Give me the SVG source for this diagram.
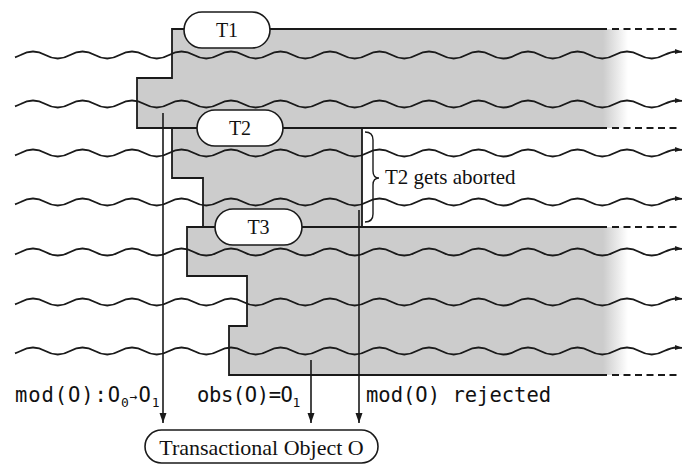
<svg xmlns="http://www.w3.org/2000/svg" xmlns:xlink="http://www.w3.org/1999/xlink" width="683" height="464" viewBox="0 0 683 464">
  <style>
    .region { fill: #cccccc; stroke: none; }
    .region-fade { fill: url(#fade); stroke: none; }
    .edge { fill: none; stroke: #1a1a1a; stroke-width: 1.8; }
    .dash { fill: none; stroke: #1a1a1a; stroke-width: 1.8; stroke-dasharray: 7 4.5; }
    .wave { fill: none; stroke: #1a1a1a; stroke-width: 1.8; }
    .pill { fill: #ffffff; stroke: #1a1a1a; stroke-width: 1.6; }
    .label { font-family: "Liberation Serif", "Times New Roman", serif; font-size: 20px; fill: #111; }
    .mono { font-family: "DejaVu Sans Mono", "Liberation Mono", monospace; font-size: 20.5px; fill: #111; }
    .sub { font-size: 13px; }
    .conn { fill: none; stroke: #1a1a1a; stroke-width: 1.6; }
    .brace { fill: none; stroke: #1a1a1a; stroke-width: 1.4; }
  </style>
  <defs>
    <linearGradient id="fade" gradientUnits="userSpaceOnUse" x1="603" y1="0" x2="628" y2="0">
      <stop offset="0" stop-color="#cccccc" stop-opacity="1"/>
      <stop offset="1" stop-color="#cccccc" stop-opacity="0"/>
    </linearGradient>
    <marker id="tip" markerUnits="userSpaceOnUse" markerWidth="10" markerHeight="8" refX="10" refY="4" orient="auto">
      <path d="M0,0.5 L10,4 L0,7.5 Z" fill="#1a1a1a"/>
    </marker>
    <marker id="wavetip" markerUnits="userSpaceOnUse" markerWidth="8" markerHeight="6" refX="7" refY="3" orient="auto">
      <path d="M0,0.5 L7,3 L0,5.5 Z" fill="#1a1a1a"/>
    </marker>
    <!-- one thread: sine-like wave, period 49.5, amplitude 3.5 -->
    <path id="thread" class="wave" marker-end="url(#wavetip)"
      d="M15,2.3 Q17.8,1.25 20.625,0 q12.375,-7 24.75,0 t24.75,0 t24.75,0 t24.75,0 t24.75,0 t24.75,0 t24.75,0 t24.75,0 t24.75,0 t24.75,0 t24.75,0 t24.75,0 t24.75,0 t24.75,0 t24.75,0 t24.75,0 t24.75,0 t24.75,0 t24.75,0 t24.75,0 t24.75,0 t24.75,0 t24.75,0 t24.75,0 t24.75,0 t24.75,0 Q672,-3.5 676.5,-3.5 L682,-3.2"/>
  </defs>

  <!-- transaction T1 region -->
  <g id="region-t1">
    <path class="region" d="M172,29 H603 V128 H137 V78 H172 Z"/>
    <rect class="region-fade" x="603" y="29" width="25" height="99"/>
    <path class="edge" d="M607,29 H172 V78 H137 V128 H607"/>
    <path class="dash" d="M612,29 H678 M612,128 H678"/>
  </g>

  <!-- transaction T2 region (aborted) -->
  <g id="region-t2">
    <path class="region" d="M172,128 H362 V227 H203 V178 H172 Z"/>
    <path class="edge" d="M172,128 H362 V227 H203 V178 H172 Z"/>
  </g>

  <!-- transaction T3 region -->
  <g id="region-t3">
    <path class="region" d="M187,227 H603 V375 H229 V326 H247 V276 H187 Z"/>
    <rect class="region-fade" x="603" y="227" width="25" height="148"/>
    <path class="edge" d="M607,227 H187 V276 H247 V326 H229 V375 H607"/>
    <path class="dash" d="M612,227 H678 M612,375 H678"/>
  </g>

  <!-- threads -->
  <g id="threads">
    <use xlink:href="#thread" transform="translate(0,55)"/>
    <use xlink:href="#thread" transform="translate(0,104)"/>
    <use xlink:href="#thread" transform="translate(0,153)"/>
    <use xlink:href="#thread" transform="translate(0,202)"/>
    <use xlink:href="#thread" transform="translate(0,252)"/>
    <use xlink:href="#thread" transform="translate(0,302)"/>
    <use xlink:href="#thread" transform="translate(0,351)"/>
  </g>

  <!-- transaction labels -->
  <g id="t1">
    <rect class="pill" x="184" y="12" width="86" height="36" rx="18"/>
    <text class="label" x="227" y="37" text-anchor="middle">T1</text>
  </g>
  <g id="t2">
    <rect class="pill" x="197" y="110" width="86" height="36" rx="18"/>
    <text class="label" x="240" y="135" text-anchor="middle">T2</text>
  </g>
  <g id="t3">
    <rect class="pill" x="215" y="209" width="87" height="36" rx="18"/>
    <text class="label" x="258.5" y="234" text-anchor="middle">T3</text>
  </g>

  <!-- abort annotation -->
  <g id="abort-note">
    <path class="brace" d="M365,132 Q373,132 373,140 V171 Q373,178 379,178 Q373,178 373,185 V214 Q373,222 365,222"/>
    <text class="label" x="385" y="184" style="font-size:21px">T2 gets aborted</text>
  </g>

  <!-- shared object -->
  <g id="object-o">
    <rect class="pill" x="145" y="430" width="233" height="33" rx="16.5"/>
    <text class="label" x="261.5" y="455" text-anchor="middle" style="font-size:22px">Transactional Object O</text>
  </g>

  <!-- operations on the object -->
  <g id="connectors">
    <line class="conn" x1="163" y1="113" x2="163" y2="423" marker-end="url(#tip)"/>
    <line class="conn" x1="311" y1="360" x2="311" y2="423" marker-end="url(#tip)"/>
    <line class="conn" x1="359" y1="210" x2="359" y2="423" marker-end="url(#tip)"/>
    <text class="mono" x="15" y="402" style="letter-spacing:0.9px">mod(O):O<tspan class="sub" dy="5">0</tspan><tspan class="sub" dy="-6">→</tspan><tspan dy="1">O</tspan><tspan class="sub" dy="5">1</tspan></text>
    <text class="mono" x="197" y="402" style="letter-spacing:-0.4px">obs(O)=O<tspan class="sub" dy="5">1</tspan></text>
    <text class="mono" x="366" y="402">mod(O) rejected</text>
  </g>
</svg>
